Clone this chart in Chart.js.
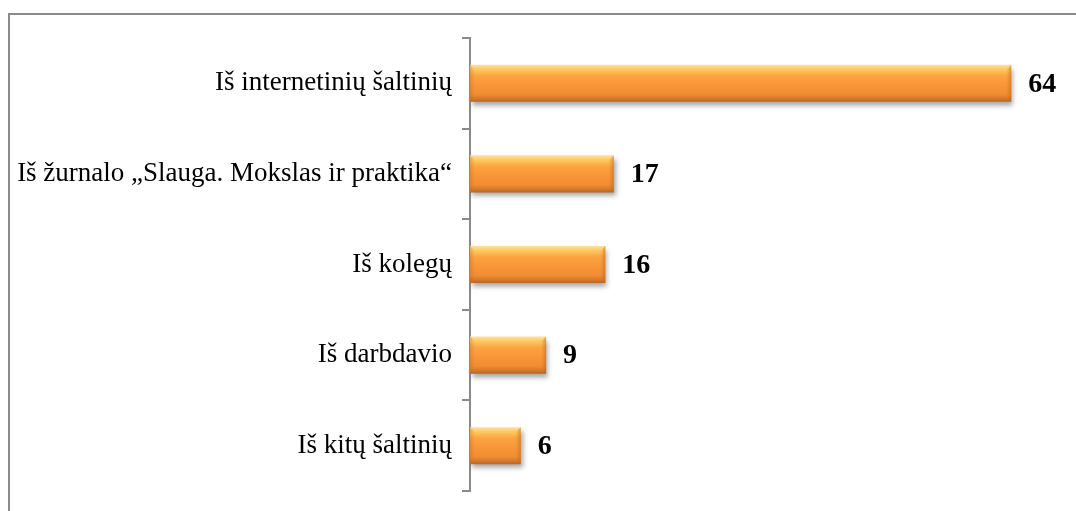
<!DOCTYPE html>
<html>
<head>
<meta charset="utf-8">
<script src="https://cdn.jsdelivr.net/npm/chart.js@4/dist/chart.umd.min.js"></script>
<style>
html,body{margin:0;padding:0;background:#fff;overflow:hidden;}
#wrap{position:relative;width:1076px;height:511px;}
#frame{position:absolute;left:8px;top:13px;width:1200px;height:700px;border:2px solid #8a8a8a;box-sizing:border-box;}
canvas{position:absolute;left:0;top:0;}
</style>
</head>
<body>
<div id="wrap">
<div id="frame"></div>
<canvas id="c" width="1076" height="511"></canvas>
</div>
<script>
const categories = [
  "Iš internetinių šaltinių",
  "Iš žurnalo „Slauga. Mokslas ir praktika“",
  "Iš kolegų",
  "Iš darbdavio",
  "Iš kitų šaltinių"
];
const values = [64, 17, 16, 9, 6];
const axisMax = 70;

function barGradient(ctx) {
  const chart = ctx.chart;
  const ys = chart.scales.y;
  if (!chart.chartArea || !ys || ctx.dataIndex === undefined) return '#f79646';
  const yc = ys.getPixelForValue(ctx.dataIndex);
  const band = ys.height / categories.length;
  const h = band * 0.41;
  const g = chart.ctx.createLinearGradient(0, yc - h / 2, 0, yc + h / 2);
  g.addColorStop(0, '#fde2a0');
  g.addColorStop(0.12, '#fdca62');
  g.addColorStop(0.3, '#fba440');
  g.addColorStop(0.55, '#f99638');
  g.addColorStop(0.8, '#f08c32');
  g.addColorStop(0.92, '#d47728');
  g.addColorStop(1, '#b5652a');
  return g;
}

const shadowPlugin = {
  id: 'shadow',
  beforeDatasetDraw(chart) {
    const c = chart.ctx;
    c.save();
    c.shadowColor = 'rgba(0,0,0,0.35)';
    c.shadowBlur = 5;
    c.shadowOffsetX = 2;
    c.shadowOffsetY = 4;
  },
  afterDatasetDraw(chart) {
    chart.ctx.restore();
  }
};

const bevelPlugin = {
  id: 'bevel',
  afterDatasetsDraw(chart) {
    const c = chart.ctx;
    const meta = chart.getDatasetMeta(0);
    meta.data.forEach((bar, i) => {
      const x0 = bar.base, x1 = bar.x;
      const h = bar.height;
      const top = bar.y - h / 2, bot = bar.y + h / 2;
      const b = 5;
      c.save();
      let g = c.createLinearGradient(x1 - b, 0, x1, 0);
      g.addColorStop(0, 'rgba(200,110,30,0)');
      g.addColorStop(1, 'rgba(190,100,25,0.55)');
      c.fillStyle = g;
      c.beginPath();
      c.moveTo(x1 - b, top + b);
      c.lineTo(x1, top);
      c.lineTo(x1, bot);
      c.lineTo(x1 - b, bot - b);
      c.closePath();
      c.fill();
      g = c.createLinearGradient(x0, 0, x0 + b, 0);
      g.addColorStop(0, 'rgba(190,100,25,0.35)');
      g.addColorStop(1, 'rgba(200,110,30,0)');
      c.fillStyle = g;
      c.beginPath();
      c.moveTo(x0, top);
      c.lineTo(x0 + b, top + b);
      c.lineTo(x0 + b, bot - b);
      c.lineTo(x0, bot);
      c.closePath();
      c.fill();
      c.fillStyle = '#000';
      c.font = 'bold 28px "Liberation Serif", "Times New Roman", serif';
      c.textAlign = 'left';
      c.textBaseline = 'middle';
      c.fillText(String(values[i]), x1 + 17, bar.y + 1);
      c.restore();
    });
  }
};

new Chart(document.getElementById('c'), {
  type: 'bar',
  data: {
    labels: categories,
    datasets: [{
      data: values,
      backgroundColor: barGradient,
      borderWidth: 0,
      barPercentage: 0.41,
      categoryPercentage: 1
    }]
  },
  options: {
    indexAxis: 'y',
    responsive: false,
    animation: false,
    layout: { padding: { top: 38, bottom: 20, left: 0, right: 14 } },
    plugins: { legend: { display: false }, tooltip: { enabled: false } },
    scales: {
      x: { display: false, min: 0, max: axisMax },
      y: {
        offset: true,
        grid: { offset: true, drawOnChartArea: false, tickLength: 8, color: '#8a8a8a', lineWidth: 2 },
        border: { display: true, color: '#8a8a8a', width: 2 },
        ticks: {
          color: '#000',
          padding: 10,
          font: { family: '"Liberation Serif", "Times New Roman", serif', size: 27 }
        },
        afterFit(scale) {
          scale.width = 470;
          scale.paddingTop = 0;
          scale.paddingBottom = 0;
        }
      }
    }
  },
  plugins: [shadowPlugin, bevelPlugin]
});
</script>
</body>
</html>
